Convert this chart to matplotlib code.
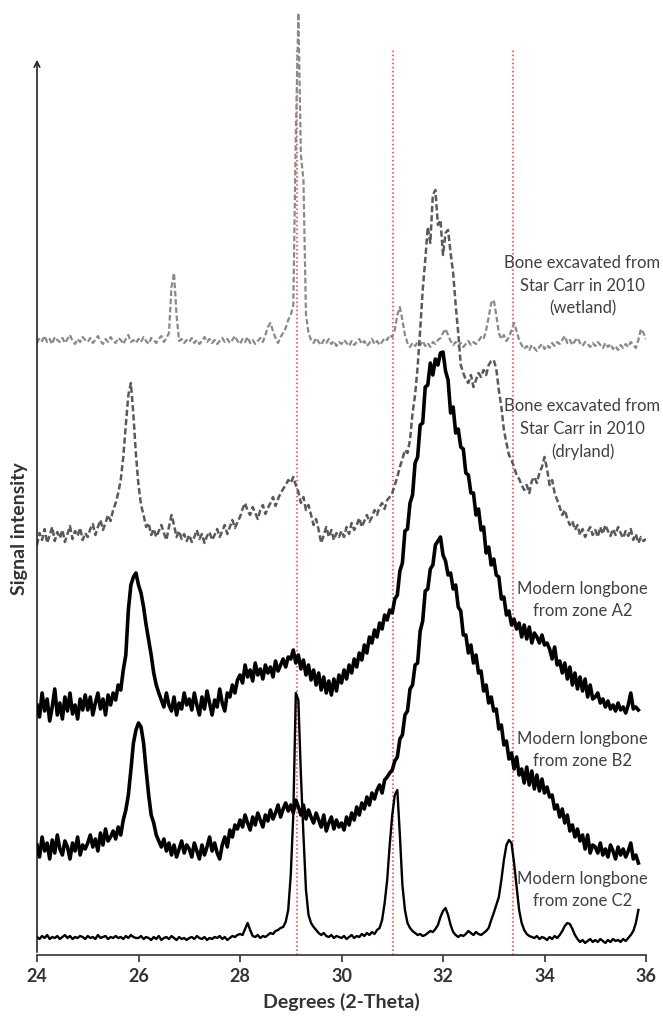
import numpy as np
import matplotlib
matplotlib.use("Agg")
import matplotlib.pyplot as plt

plt.rcParams['font.family'] = ['Lato', 'DejaVu Sans']

# scan grid: 24.00 .. 36.00 deg 2-theta, step 0.05
two_theta = np.round(24 + 0.05 * np.arange(241), 2)

# stacked intensities (arbitrary units, already offset as in the figure)
wetland = [
    612, 617, 614, 619, 613, 616, 611, 618, 615, 613, 617, 612, 616, 620, 614, 611, 616, 613, 618, 615,
    613, 617, 612, 615, 619, 614, 611, 616, 613, 618, 614, 612, 617, 615, 611, 616, 620, 613, 615, 612,
    616, 613, 618, 614, 611, 617, 615, 612, 616, 619, 613, 617, 622, 668, 682, 640, 614, 616, 612, 615,
    613, 617, 612, 615, 611, 614, 618, 613, 616, 612, 615, 611, 614, 617, 613, 616, 612, 615, 619, 614,
    611, 616, 613, 618, 612, 615, 611, 614, 617, 613, 620, 628, 632, 624, 617, 612, 618, 622, 627, 635,
    640, 650, 820, 942, 800, 775, 640, 622, 615, 612, 617, 613, 610, 615, 612, 616, 611, 614, 609, 613,
    611, 615, 612, 609, 614, 610, 613, 616, 611, 614, 609, 612, 616, 611, 614, 610, 613, 617, 615, 620,
    618, 625, 640, 648, 635, 620, 612, 608, 612, 609, 613, 610, 614, 609, 612, 608, 613, 611, 615, 617,
    622, 626, 620, 614, 610, 613, 609, 612, 608, 611, 614, 610, 613, 611, 614, 618, 616, 625, 638, 652,
    655, 640, 622, 616, 620, 614, 618, 625, 632, 624, 615, 610, 606, 609, 605, 610, 607, 604, 608, 611,
    606, 610, 607, 612, 609, 613, 611, 615, 619, 612, 615, 610, 614, 617, 612, 609, 613, 611, 608, 612,
    609, 613, 610, 607, 612, 608, 611, 606, 609, 605, 610, 607, 611, 608, 613, 610, 607, 615, 626, 622,
    616]

dryland = [
    410, 422, 415, 426, 412, 420, 428, 414, 423, 417, 425, 413, 421, 429, 416, 424, 419, 427, 415, 422,
    418, 426, 431, 420, 428, 435, 425, 432, 440, 434, 445, 452, 462, 475, 498, 530, 560, 572, 540, 500,
    470, 450, 440, 428, 432, 420, 426, 418, 424, 430, 422, 415, 428, 440, 430, 418, 424, 416, 421, 414,
    420, 413, 418, 425, 416, 421, 412, 419, 423, 415, 420, 426, 418, 424, 430, 421, 428, 435, 427, 433,
    438, 446, 452, 444, 440, 448, 442, 436, 445, 450, 441, 447, 452, 458, 449, 456, 462, 466, 470, 475,
    472, 478, 470, 463, 452, 458, 445, 450, 440, 430, 436, 425, 412, 420, 428, 418, 425, 415, 422, 418,
    424, 418, 428, 421, 432, 425, 430, 437, 428, 434, 440, 433, 438, 445, 440, 448, 452, 446, 455, 458,
    462, 470, 478, 488, 496, 505, 502, 515, 542, 560, 588, 625, 665, 695, 728, 712, 760, 765, 730, 735,
    700, 722, 725, 702, 682, 650, 622, 590, 582, 575, 572, 580, 568, 575, 582, 578, 585, 580, 590, 594,
    595, 586, 565, 548, 525, 512, 500, 495, 488, 480, 476, 470, 465, 470, 462, 474, 478, 472, 482, 488,
    498, 486, 470, 475, 462, 455, 448, 440, 445, 436, 430, 434, 425, 430, 420, 426, 418, 423, 428, 420,
    425, 418, 428, 421, 430, 424, 419, 426, 420, 428, 422, 417, 424, 419, 426, 415, 421, 412, 418, 414,
    416]

# modern samples stop at 35.85
zone_a2 = [
    250, 238, 262, 244, 256, 234, 248, 266, 240, 252, 236, 258, 244, 262, 241, 250, 236, 256, 245, 260,
    245, 258, 240, 252, 262, 246, 256, 240, 260, 250, 262, 255, 270, 265, 285, 300, 345, 370, 378, 382,
    370, 362, 348, 330, 315, 300, 282, 270, 262, 255, 248, 262, 250, 244, 258, 240, 252, 246, 262, 250,
    256, 245, 262, 250, 240, 258, 246, 264, 252, 240, 255, 248, 266, 252, 244, 262, 258, 270, 262, 275,
    280, 272, 290, 278, 285, 274, 292, 280, 286, 276, 290, 282, 288, 278, 294, 284, 290, 296, 288, 298,
    296, 305, 292, 300, 286, 295, 280, 290, 275, 285, 270, 282, 265, 278, 262, 274, 260, 276, 264, 280,
    272, 285, 276, 290, 282, 296, 288, 302, 295, 310, 302, 318, 312, 325, 318, 332, 326, 340, 335, 345,
    342, 356, 360, 384, 392, 424, 426, 452, 460, 492, 498, 530, 532, 568, 570, 592, 580, 596, 590, 602,
    603, 584, 575, 542, 548, 522, 526, 508, 506, 482, 480, 462, 462, 440, 446, 425, 428, 402, 408, 390,
    396, 380, 378, 356, 358, 340, 344, 330, 336, 326, 332, 318, 330, 316, 328, 312, 322, 318, 312, 320,
    310, 312, 306, 296, 308, 290, 294, 282, 292, 276, 288, 270, 282, 266, 278, 264, 276, 258, 270, 256,
    258, 262, 252, 256, 248, 254, 246, 250, 244, 252, 245, 248, 242, 250, 262, 246, 248, 245]

zone_b2 = [
    110, 98, 118, 104, 112, 96, 115, 102, 120, 106, 100, 114, 108, 96, 112, 104, 118, 100, 110, 106,
    112, 120, 108, 116, 104, 122, 110, 126, 114, 118, 124, 116, 128, 120, 135, 145, 160, 185, 212, 225,
    232, 228, 212, 185, 160, 140, 132, 120, 114, 108, 116, 104, 112, 100, 110, 98, 106, 114, 102, 110,
    106, 98, 112, 104, 96, 110, 100, 108, 118, 104, 112, 102, 96, 110, 118, 108, 125, 118, 130, 126,
    135, 128, 140, 132, 125, 138, 130, 142, 135, 128, 140, 134, 145, 136, 142, 150, 138, 146, 152, 144,
    150, 142, 155, 148, 140, 150, 136, 145, 138, 132, 142, 135, 128, 140, 124, 132, 138, 126, 135, 128,
    132, 125, 138, 130, 142, 135, 148, 140, 152, 146, 158, 150, 162, 156, 165, 170, 162, 175, 178, 182,
    185, 194, 198, 216, 220, 240, 244, 266, 270, 290, 292, 324, 334, 364, 366, 386, 390, 410, 414, 418,
    400, 394, 380, 382, 366, 370, 348, 344, 320, 320, 302, 310, 292, 300, 282, 284, 264, 270, 252, 258,
    244, 246, 226, 230, 210, 214, 196, 202, 186, 198, 180, 186, 172, 188, 170, 184, 166, 180, 164, 176,
    162, 168, 158, 160, 146, 150, 138, 146, 132, 140, 124, 130, 118, 126, 114, 120, 106, 120, 102, 110,
    108, 102, 112, 100, 106, 98, 110, 104, 96, 108, 100, 106, 98, 104, 112, 96, 100, 92]

zone_c2 = [
    18, 16, 19, 17, 20, 16, 18, 17, 19, 16, 18, 20, 17, 19, 16, 18, 17, 19, 18, 16,
    19, 17, 18, 16, 20, 17, 18, 19, 16, 18, 17, 19, 17, 18, 16, 19, 17, 20, 18, 17,
    17, 19, 16, 18, 17, 15, 18, 16, 19, 15, 17, 18, 16, 19, 17, 15, 18, 16, 17, 15,
    17, 18, 16, 19, 17, 16, 18, 15, 17, 16, 18, 17, 19, 16, 18, 15, 17, 19, 18, 20,
    21, 20, 26, 32, 25, 19, 18, 20, 17, 19, 18, 20, 22, 21, 24, 25, 27, 28, 33, 45,
    80, 140, 262, 255, 180, 120, 65, 40, 32, 28, 25, 22, 20, 22, 19, 18, 20, 17, 19, 18,
    17, 19, 16, 18, 20, 17, 19, 18, 21, 19, 22, 20, 23, 21, 25, 27, 35, 52, 75, 110,
    140, 160, 165, 120, 70, 45, 32, 27, 24, 22, 20, 21, 19, 20, 22, 24, 23, 26, 30, 38,
    44, 47, 40, 30, 23, 20, 18, 20, 19, 21, 24, 22, 20, 23, 21, 20, 22, 24, 27, 35,
    42, 50, 58, 75, 95, 110, 115, 112, 92, 68, 45, 32, 25, 21, 19, 18, 17, 19, 16, 18,
    17, 15, 18, 16, 19, 17, 20, 24, 29, 32, 31, 26, 20, 16, 13, 15, 12, 14, 16, 13,
    15, 13, 16, 14, 12, 15, 13, 16, 14, 15, 13, 16, 14, 17, 20, 24, 32, 45]

ref_lines = [29.12, 31.02, 33.37]

labels = ["Bone excavated from\nStar Carr in 2010\n(wetland)",
          "Bone excavated from\nStar Carr in 2010\n(dryland)",
          "Modern longbone\nfrom zone A2",
          "Modern longbone\nfrom zone B2",
          "Modern longbone\nfrom zone C2"]
label_y = [669, 526, 355, 205, 65]

fig = plt.figure(figsize=(6.63, 10.17), dpi=100)
ax = fig.add_axes([37 / 663, 62 / 1017, 609 / 663, 955 / 1017])

ax.vlines(ref_lines, 0, 905, colors='#ff3030', linestyles=':', lw=1.1, zorder=1)

n_mod = len(zone_c2)
ax.plot(two_theta, wetland, color='#8a8a8a', lw=1.6, dashes=(2.5, 1.2), zorder=2)
ax.plot(two_theta, dryland, color='#5a5a5a', lw=1.8, dashes=(2.5, 1.2), zorder=3)
ax.plot(two_theta[:n_mod], zone_a2, color='black', lw=2.6, zorder=4)
ax.plot(two_theta[:n_mod], zone_b2, color='black', lw=2.6, zorder=5)
ax.plot(two_theta[:n_mod], zone_c2, color='black', lw=1.7, zorder=6)

for txt, yv in zip(labels, label_y):
    ax.text(34.75, yv, txt, ha='center', va='center', fontsize=12, color='#404040',
            linespacing=1.5, clip_on=False, zorder=7)

ax.set_xlim(24, 36)
ax.set_ylim(0, 955)
ax.set_xticks([24, 26, 28, 30, 32, 34, 36])
ax.set_yticks([])
for side in ['left', 'top', 'right']:
    ax.spines[side].set_visible(False)
ax.spines['bottom'].set_color('#333333')
ax.spines['bottom'].set_linewidth(1.2)
ax.tick_params(axis='x', direction='out', length=5, width=1.2, color='#333333',
               labelsize=13, labelcolor='#333333', pad=4)
for lab in ax.get_xticklabels():
    lab.set_fontweight('bold')

# y axis drawn as an arrow
ax.annotate('', xy=(24, 898), xytext=(24, 0),
            arrowprops=dict(arrowstyle='->', color='#222233', lw=1.2),
            annotation_clip=False)

ax.set_xlabel('Degrees (2-Theta)', fontsize=14, fontweight='bold', color='#333333', labelpad=6)
fig.text(20 / 663, 1 - 529 / 1017, 'Signal intensity', rotation=90, ha='center', va='center',
         fontsize=14, fontweight='bold', color='#333333')

fig.savefig('out.png', dpi=100)
